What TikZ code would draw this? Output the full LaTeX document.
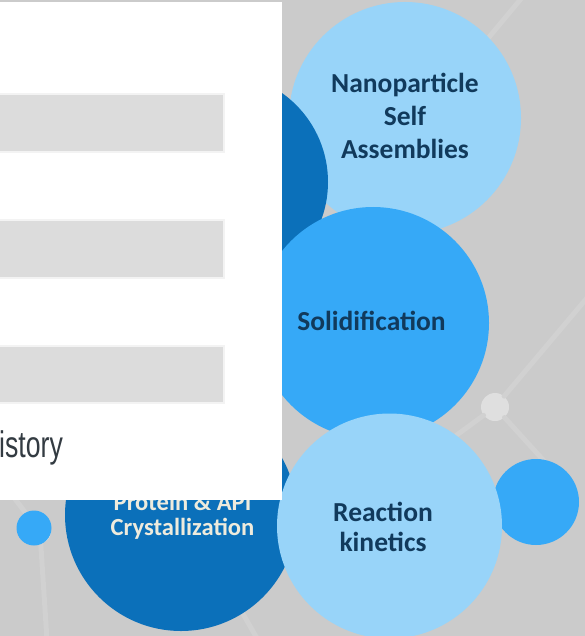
\documentclass[tikz,border=0pt]{standalone}
\usepackage{fontspec}
\usepackage{graphicx}
\setmainfont{Carlito}
\newfontfamily\arialf{Liberation Sans}
\definecolor{bgray}{HTML}{CBCBCB}
\definecolor{netgray}{HTML}{D1D1D1}
\definecolor{lightblue}{HTML}{98D4F9}
\definecolor{midblue}{HTML}{36A9F7}
\definecolor{darkblue}{HTML}{0B70BA}
\definecolor{navy}{HTML}{113A5C}
\definecolor{cream}{HTML}{EEEBDD}
\definecolor{bargray}{HTML}{DCDCDC}
\definecolor{barrim}{HTML}{F3F3F3}
\definecolor{histgray}{HTML}{333B42}
\tikzset{
  netline/.style={netgray, line width=5pt, line cap=round},
  netnode/.style={circle, fill=netgray!70!white, minimum size=28pt, inner sep=0pt},
  bubble/.style={circle, inner sep=0pt},
  bluelabel/.style={anchor=base, inner sep=0pt, text=navy, font=\bfseries\fontsize{27.5}{33}\selectfont},
  creamlabel/.style={anchor=base, inner sep=0pt, text=cream, font=\bfseries\fontsize{24.6}{25}\selectfont},
  barbox/.style={fill=bargray, draw=barrim, line width=2pt},
}
\begin{document}
\begin{tikzpicture}[x=1pt,y=-1pt]
\useasboundingbox (0,0) rectangle (585,636);
\fill[bgray] (0,0) rectangle (585,636);
% faint network in the background
\node[netnode] (n1) at (495,407) {};
\coordinate (e1) at (592,292);
\coordinate (e2) at (420,462);
\coordinate (e3) at (545,462);
\coordinate (e4) at (525,-6);
\coordinate (e5) at (470,60);
\draw[netline] (n1) -- (e1);
\draw[netline] (n1) -- (e2);
\draw[netline] (n1) -- (e3);
\draw[netline] (e4) -- (e5);
\node[netnode, minimum size=22pt] (n2) at (40,532) {};
\coordinate (e6) at (47,640);
\coordinate (e7) at (12,495);
\coordinate (e8) at (235,600);
\coordinate (e9) at (258,640);
\draw[netline] (n2) -- (e6);
\draw[netline] (n2) -- (e7);
\draw[netline] (e8) -- (e9);
% bubbles
\node[bubble, fill=lightblue, minimum size=232pt] (nano) at (405,118) {};
\node[bubble, fill=darkblue, minimum size=218pt] (dtop) at (219,182) {};
\node[bubble, fill=midblue, minimum size=232pt] (solid) at (373,323) {};
\node[bubble, fill=darkblue, minimum size=232pt] (prot) at (181,515) {};
\node[bubble, fill=midblue, minimum size=86pt] (sright) at (536,502) {};
\node[bubble, fill=lightblue, minimum size=225pt] (react) at (389.5,526) {};
\node[bubble, fill=midblue, minimum size=35pt] (sleft) at (34,528) {};
% labels
\node[bluelabel] (t1) at (405,93) {Nanoparticle};
\node[bluelabel] (t2) at (405,126) {Self};
\node[bluelabel] (t3) at (405,159) {Assemblies};
\node[bluelabel] (t4) at (371.5,330) {Solidification};
\node[bluelabel] (t5) at (383,521.5) {Reaction};
\node[bluelabel] (t6) at (383,551.5) {kinetics};
\node[creamlabel] (t7) at (182.5,510.5) {Protein \& API};
\node[creamlabel] (t8) at (182.5,535) {Crystallization};
% white panel on top
\fill[white] (0,2) rectangle (282,500);
\draw[barbox] (-3,94) rectangle (224,152);
\draw[barbox] (-3,220) rectangle (224,278);
\draw[barbox] (-3,346) rectangle (224,403);
\node[anchor=base west, inner sep=0pt, text=histgray] (hist) at (-1,457)
  {\scalebox{0.72}[1]{\arialf\fontsize{37}{40}\selectfont istory}};
\end{tikzpicture}
\end{document}
